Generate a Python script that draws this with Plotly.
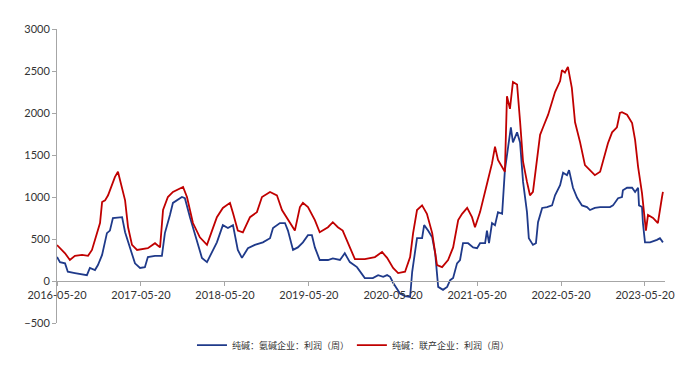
import plotly.graph_objects as go

# 纯碱：联产企业：利润（周）
red_dates = ["2016-05-20","2016-06-11","2016-06-24","2016-07-15","2016-08-06","2016-09-06","2016-10-02","2016-10-19",
    "2016-11-01","2016-11-14","2016-11-23","2016-12-02","2016-12-15","2016-12-28","2017-01-14","2017-01-27","2017-02-09",
    "2017-02-27","2017-03-12","2017-03-25","2017-04-11","2017-05-03","2017-05-24","2017-06-19","2017-07-20","2017-08-11",
    "2017-08-24","2017-09-14","2017-10-06","2017-11-06","2017-11-19","2017-12-06","2018-01-01","2018-01-31","2018-03-03",
    "2018-03-25","2018-04-15","2018-05-11","2018-06-11","2018-06-24","2018-07-15","2018-08-06","2018-09-06","2018-10-06",
    "2018-10-28","2018-12-02","2019-01-01","2019-01-23","2019-02-18","2019-03-20","2019-04-11","2019-04-24","2019-05-16",
    "2019-06-15","2019-07-06","2019-08-11","2019-09-01","2019-09-23","2019-10-14","2019-11-14","2019-12-06","2020-01-18",
    "2020-03-02","2020-04-02","2020-04-24","2020-05-20","2020-06-11","2020-07-11","2020-08-02","2020-08-15","2020-09-01",
    "2020-09-23","2020-10-14","2020-11-06","2020-11-27","2020-12-19","2021-01-14","2021-02-05","2021-02-27","2021-03-16",
    "2021-04-07","2021-04-28","2021-05-11","2021-06-02","2021-06-24","2021-07-06","2021-07-24","2021-08-06","2021-08-19",
    "2021-09-06","2021-09-18","2021-09-27","2021-10-10","2021-10-23","2021-11-10","2021-11-23","2021-12-06","2021-12-23",
    "2022-01-05","2022-01-18","2022-02-05","2022-02-18","2022-03-03","2022-03-25","2022-04-24","2022-05-16","2022-05-24",
    "2022-06-06","2022-06-19","2022-07-06","2022-07-20","2022-08-11","2022-09-01","2022-09-23","2022-10-14","2022-11-06",
    "2022-11-27","2022-12-10","2022-12-28","2023-01-18","2023-01-31","2023-02-09","2023-03-03","2023-03-25","2023-04-07",
    "2023-04-20","2023-05-07","2023-05-16","2023-05-24","2023-06-02","2023-06-24","2023-07-11","2023-07-15","2023-08-02",
    "2023-08-06"]
red_values = [428,370,330,250,300,310,300,370,
    490,600,690,940,960,1020,1140,1240,1300,
    1120,960,640,430,370,380,390,450,400,
    845,1000,1060,1100,1120,1000,690,520,430,
    600,760,870,930,810,600,580,760,820,
    1000,1060,1020,845,725,600,880,930,880,
    725,580,640,700,640,600,390,260,260,
    285,345,275,155,95,110,285,570,845,
    900,800,570,190,165,250,400,725,800,
    870,760,640,820,1045,1200,1400,1600,1440,
    1360,1300,2200,2050,2370,2340,1900,1420,1180,
    1020,1060,1420,1740,1830,1980,2250,2380,2510,
    2480,2550,2300,1890,1650,1380,1320,1260,1300,
    1500,1640,1770,1830,2000,2010,1980,1880,1680,
    1360,1045,800,600,785,750,700,690,1000,
    1060]

# 纯碱：氨碱企业：利润（周）
blue_dates = ["2016-05-20","2016-06-02","2016-06-24","2016-07-06","2016-08-06","2016-09-06","2016-09-27","2016-10-10",
    "2016-11-01","2016-11-14","2016-12-02","2016-12-23","2017-01-05","2017-01-18","2017-02-27","2017-03-12","2017-04-02",
    "2017-04-24","2017-05-16","2017-06-06","2017-06-19","2017-07-20","2017-08-19","2017-09-01","2017-09-23","2017-10-06",
    "2017-11-14","2017-11-27","2017-12-19","2018-01-14","2018-02-09","2018-03-03","2018-03-25","2018-04-15","2018-05-11",
    "2018-06-02","2018-06-24","2018-07-15","2018-08-02","2018-08-28","2018-09-27","2018-11-01","2018-12-02","2018-12-15",
    "2019-01-14","2019-02-05","2019-02-18","2019-03-12","2019-04-02","2019-04-24","2019-05-16","2019-06-02","2019-06-15",
    "2019-07-06","2019-08-11","2019-09-01","2019-10-02","2019-10-23","2019-11-14","2019-12-15","2020-01-18","2020-02-22",
    "2020-03-16","2020-04-07","2020-04-24","2020-05-07","2020-05-20","2020-06-06","2020-06-19","2020-07-11","2020-08-02",
    "2020-08-11","2020-09-01","2020-09-23","2020-10-02","2020-10-19","2020-11-06","2020-11-19","2020-12-02","2020-12-23",
    "2021-01-10","2021-01-23","2021-02-05","2021-02-22","2021-03-07","2021-03-20","2021-04-11","2021-05-03","2021-05-20",
    "2021-06-02","2021-06-24","2021-07-02","2021-07-11","2021-07-24","2021-08-06","2021-08-19","2021-09-06","2021-09-18",
    "2021-09-27","2021-10-14","2021-10-23","2021-11-10","2021-11-23","2021-12-06","2021-12-23","2021-12-31","2022-01-18",
    "2022-01-31","2022-02-09","2022-02-27","2022-03-20","2022-04-11","2022-04-24","2022-05-16","2022-05-29","2022-06-15",
    "2022-06-24","2022-07-11","2022-07-29","2022-08-19","2022-09-10","2022-09-23","2022-10-14","2022-11-06","2022-12-19",
    "2023-01-01","2023-01-23","2023-02-09","2023-02-13","2023-03-03","2023-03-25","2023-04-07","2023-04-20","2023-04-24",
    "2023-05-07","2023-05-11","2023-05-20","2023-06-11","2023-07-11","2023-07-24","2023-08-06"]
blue_values = [285,225,210,110,95,80,70,155,
    130,190,310,570,600,750,760,580,400,
    210,155,165,285,300,300,570,785,930,
    1000,985,760,520,275,225,345,460,665,
    630,665,370,275,390,430,460,510,630,
    690,690,600,370,400,460,545,545,400,
    250,250,270,250,330,225,165,35,35,
    70,50,70,50,-20,-100,-150,-180,-190,
    110,510,510,665,600,520,330,-70,-105,
    -70,10,35,210,250,450,450,400,390,
    450,450,600,450,690,665,820,800,1320,
    1520,1830,1650,1770,1650,1180,820,510,430,
    450,700,870,880,900,1020,1140,1290,1260,
    1320,1110,990,900,880,845,870,880,880,
    900,985,1000,1080,1110,1110,1060,1110,900,
    880,690,460,460,490,510,460]

tick_vals = ["2016-05-20","2017-05-20","2018-05-20","2019-05-20","2020-05-20","2021-05-20","2022-05-20","2023-05-20"]
y_ticks = [-500, 0, 500, 1000, 1500, 2000, 2500, 3000]
y_range = [-500, 3000]

fig = go.Figure()
fig.add_trace(go.Scatter(x=blue_dates, y=blue_values, mode="lines",
                         name="纯碱：氨碱企业：利润（周）", legend="legend",
                         line=dict(color="#1F3A8A", width=1.8)))
fig.add_trace(go.Scatter(x=red_dates, y=red_values, mode="lines",
                         name="纯碱：联产企业：利润（周）", legend="legend2",
                         line=dict(color="#C00000", width=1.8)))

zero_pos = (0 - y_range[0]) / (y_range[1] - y_range[0])
legend_font = dict(family="Noto Sans CJK SC", size=9, color="#333333")

fig.update_layout(
    width=700, height=369,
    margin=dict(l=49, r=43, t=21, b=54),
    paper_bgcolor="white", plot_bgcolor="white",
    font=dict(family="Lato, Open Sans, sans-serif", size=11, color="#333333"),
    showlegend=True,
    legend=dict(orientation="h", x=0.222, xanchor="left", y=-0.075, yanchor="middle",
                font=legend_font, itemwidth=30, bgcolor="rgba(0,0,0,0)"),
    legend2=dict(orientation="h", x=0.485, xanchor="left", y=-0.075, yanchor="middle",
                 font=legend_font, itemwidth=30, bgcolor="rgba(0,0,0,0)"),
    xaxis=dict(type="date", range=["2016-05-20", "2023-08-15"],
               tickvals=tick_vals, ticktext=tick_vals,
               anchor="free", position=zero_pos,
               showline=True, linecolor="#A6A6A6", linewidth=1,
               ticks="outside", ticklen=4, tickcolor="#A6A6A6",
               showgrid=False, zeroline=False,
               tickfont=dict(size=11, color="#333333")),
    yaxis=dict(range=y_range, tickvals=y_ticks,
               showline=True, linecolor="#A6A6A6", linewidth=1,
               ticks="outside", ticklen=4, tickcolor="#A6A6A6",
               showgrid=False, zeroline=False,
               tickfont=dict(size=11, color="#333333")),
)

fig.write_html("out.html")
